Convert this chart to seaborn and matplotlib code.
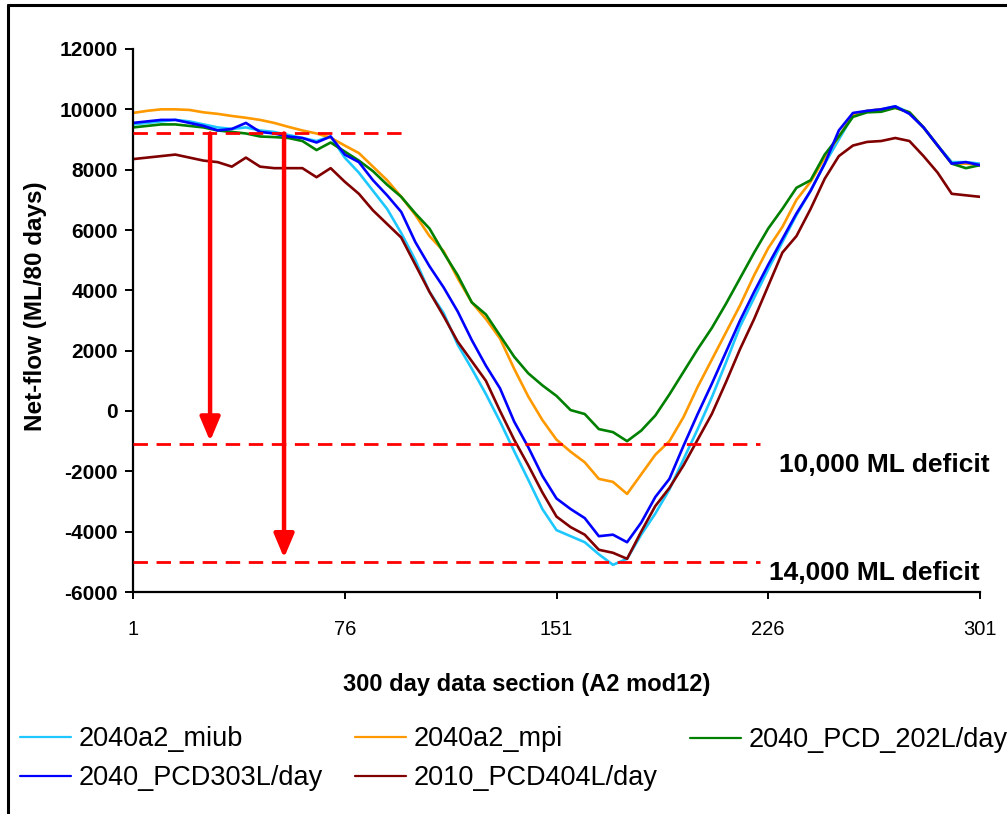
import matplotlib
matplotlib.use("Agg")
import matplotlib.pyplot as plt
import seaborn as sns
import pandas as pd
from matplotlib.lines import Line2D

# ---------------- data ----------------
days = list(range(1, 302, 5))

miub = [9500, 9550, 9600, 9650, 9600, 9500, 9400, 9350, 9400, 9300,
        9250, 9150, 9050, 8950, 9100, 8400, 7900, 7300, 6700, 5900,
        5000, 3950, 3250, 2200, 1400, 560, -350, -1330, -2280, -3250,
        -3950, -4150, -4350, -4750, -5100, -4900, -4100, -3400, -2600, -1600,
        -600, 450, 1600, 2800, 3750, 4700, 5600, 6500, 7300, 8200,
        9000, 9800, 9950, 10000, 10100, 9900, 9400, 8800, 8250, 8250, 8200]

mpi = [9880, 9950, 10000, 10000, 9980, 9900, 9850, 9780, 9720, 9650,
       9550, 9420, 9300, 9200, 9060, 8800, 8550, 8100, 7650, 7100,
       6500, 5800, 5300, 4400, 3600, 3050, 2400, 1400, 480, -300,
       -950, -1350, -1700, -2250, -2350, -2750, -2100, -1450, -1000, -200,
       800, 1700, 2600, 3500, 4500, 5400, 6100, 7000, 7600, 8400,
       9100, 9800, 9950, 10000, 10050, 9900, 9400, 8800, 8200, 8200, 8150]

pcd202 = [9400, 9450, 9500, 9500, 9450, 9400, 9300, 9250, 9200, 9100,
          9080, 9050, 8950, 8650, 8900, 8600, 8300, 7950, 7500, 7100,
          6550, 6050, 5250, 4500, 3600, 3200, 2500, 1800, 1250, 850,
          500, 30, -100, -600, -700, -1000, -650, -150, 550, 1300,
          2050, 2750, 3550, 4400, 5250, 6050, 6700, 7400, 7650, 8500,
          9100, 9750, 9900, 9920, 10050, 9900, 9400, 8800, 8200, 8050, 8150]

pcd303 = [9550, 9600, 9650, 9650, 9550, 9450, 9300, 9350, 9550, 9250,
          9200, 9100, 9050, 8900, 9100, 8500, 8250, 7650, 7150, 6600,
          5600, 4800, 4100, 3300, 2350, 1500, 750, -350, -1200, -2150,
          -2900, -3250, -3550, -4150, -4100, -4350, -3700, -2850, -2250, -1150,
          -100, 900, 1950, 3000, 3950, 4850, 5700, 6550, 7300, 8200,
          9300, 9880, 9950, 10000, 10100, 9850, 9400, 8800, 8200, 8250, 8150]

pcd404 = [8350, 8400, 8450, 8500, 8400, 8300, 8250, 8100, 8400, 8100,
          8050, 8050, 8050, 7750, 8050, 7600, 7200, 6650, 6200, 5750,
          4850, 3950, 3150, 2300, 1650, 1000, 0, -950, -1800, -2700,
          -3500, -3850, -4100, -4600, -4700, -4900, -4000, -3150, -2550, -1800,
          -950, -100, 950, 2050, 3050, 4150, 5250, 5800, 6700, 7700,
          8450, 8800, 8920, 8950, 9050, 8950, 8450, 7900, 7200, 7150, 7100]

series_names = ["2040a2_miub", "2040a2_mpi", "2040_PCD_202L/day",
                "2040_PCD303L/day", "2010_PCD404L/day"]
series_values = [miub, mpi, pcd202, pcd303, pcd404]
colors = ["#1EC8FF", "#FF9900", "#008000", "#0000FF", "#800000"]

x_ticks = [1, 76, 151, 226, 301]
y_ticks = list(range(-6000, 12001, 2000))

ref_levels = [9200, -1100, -5000]
ref_starts = [1, 1, 1]
ref_ends = [98, 223, 223]
arrow_days = [28.3, 54.5]
arrow_tops = [9200, 9200]
arrow_ends = [-1000, -4870]
note_texts = ["10,000 ML deficit", "14,000 ML deficit"]
note_x = [304.5, 301]
note_y = [-1780, -5370]

x_label = "300 day data section (A2 mod12)"
y_label = "Net-flow (ML/80 days)"

# ---------------- figure ----------------
sns.set_theme(style="white")
plt.rcParams["font.family"] = ["Liberation Sans", "DejaVu Sans"]

W, H = 1007, 814
fig = plt.figure(figsize=(W / 100, H / 100), dpi=100)
fig.patch.set_facecolor("white")

ax = fig.add_axes([133 / W, 1 - 592 / H, (980 - 133) / W, (592 - 49) / H])
ax.set_facecolor("white")

df = pd.concat(
    [pd.DataFrame({"day": days, "value": vals, "series": name})
     for name, vals in zip(series_names, series_values)],
    ignore_index=True)

sns.lineplot(data=df, x="day", y="value", hue="series", hue_order=series_names,
             palette=colors, linewidth=1.9, legend=False, ax=ax,
             estimator=None, errorbar=None, sort=False)

# reference dashed lines
for lvl, x0, x1 in zip(ref_levels, ref_starts, ref_ends):
    ax.plot([x0, x1], [lvl, lvl], color="#FF0000", lw=2.0,
            dashes=(5.2, 3.1), zorder=5)

# arrows
for xd, y0, y1 in zip(arrow_days, arrow_tops, arrow_ends):
    ax.annotate("", xy=(xd, y1), xytext=(xd, y0),
                arrowprops=dict(arrowstyle="-|>,head_length=0.9,head_width=0.38",
                                color="#FF0000", lw=3.2, shrinkA=0, shrinkB=0,
                                mutation_scale=16),
                zorder=6)

for t, xx, yy in zip(note_texts, note_x, note_y):
    ax.text(xx, yy, t, ha="right", va="center", fontsize=19,
            fontweight="bold", color="black", clip_on=False)

ax.set_xlim(1, 301)
ax.set_ylim(-6000, 12000)
ax.set_xticks(x_ticks)
ax.set_xticklabels([str(v) for v in x_ticks])
ax.set_yticks(y_ticks)
ax.set_yticklabels([str(v) for v in y_ticks])

for s in ["top", "right"]:
    ax.spines[s].set_visible(False)
for s in ["left", "bottom"]:
    ax.spines[s].set_color("black")
    ax.spines[s].set_linewidth(1.6)

ax.tick_params(axis="y", direction="out", length=6, width=1.4, pad=5,
               labelsize=15, colors="black", left=True)
ax.tick_params(axis="x", direction="out", length=5, width=1.4, pad=15,
               labelsize=14.5, colors="black", bottom=True)
for lbl in ax.get_yticklabels():
    lbl.set_fontweight("bold")

ax.set_xlabel(x_label, fontsize=17, fontweight="bold", color="black", va="center")
ax.xaxis.set_label_coords((527 - 133) / 847, (592 - 685) / 543)
ax.set_ylabel(y_label, fontsize=17.5, fontweight="bold", color="black", va="center")
ax.yaxis.set_label_coords((36 - 133) / 847, (592 - 306) / 543)
ax.grid(False)

# legend (3 columns, row-major as in the original)
handles = [Line2D([0], [0], color=c, lw=1.6) for c in colors]
leg_kw = dict(frameon=False, fontsize=19.5, handlelength=1.9,
              handletextpad=0.25, borderpad=0, borderaxespad=0,
              labelspacing=0.48, loc="center left")
columns = [([0, 3], 20, 758.5), ([1, 4], 355, 758.5), ([2], 690, 740)]
for idx, px, py in columns:
    lg = fig.legend([handles[i] for i in idx], [series_names[i] for i in idx],
                    bbox_to_anchor=(px / W, 1 - py / H), **leg_kw)
    for t in lg.get_texts():
        t.set_color("black")

# outer frame (left and top edges visible)
fig.add_artist(Line2D([7.5 / W, 7.5 / W], [0, 1 - 5 / H],
                      transform=fig.transFigure, color="black", lw=2.2))
fig.add_artist(Line2D([7.5 / W, 1], [1 - 5 / H, 1 - 5 / H],
                      transform=fig.transFigure, color="black", lw=2.2))

fig.savefig("out.png", dpi=100, facecolor="white")
